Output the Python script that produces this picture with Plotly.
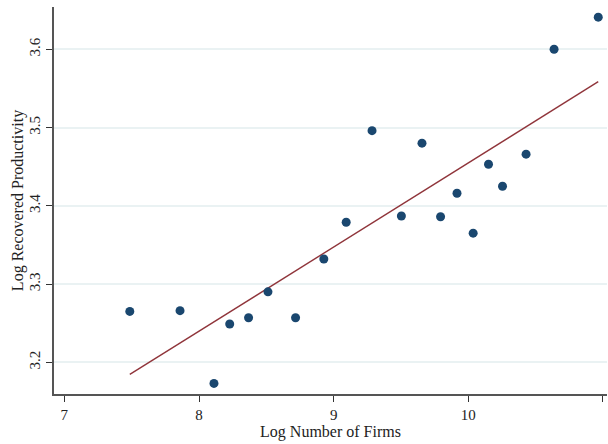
import numpy as np
import plotly.graph_objects as go

log_firms = [7.486, 7.859, 8.111, 8.228, 8.368, 8.512, 8.717, 8.927, 9.093, 9.285,
             9.503, 9.656, 9.794, 9.916, 10.036, 10.150, 10.254, 10.429, 10.637, 10.965]
log_prod = [3.265, 3.266, 3.173, 3.249, 3.257, 3.290, 3.257, 3.332, 3.379, 3.496,
            3.387, 3.480, 3.386, 3.416, 3.365, 3.453, 3.425, 3.466, 3.600, 3.641]
x_ticks = [7, 8, 9, 10, 11]
y_ticks = [3.2, 3.3, 3.4, 3.5, 3.6]

x = np.array(log_firms)
y = np.array(log_prod)
b, a = np.polyfit(x, y, 1)
xf = np.array([x.min(), x.max()])
yf = a + b * xf

font = "Liberation Serif, Times New Roman, serif"
fig = go.Figure()
fig.add_trace(go.Scatter(x=xf, y=yf, mode="lines",
                         line=dict(color="#90353b", width=1.4), showlegend=False))
fig.add_trace(go.Scatter(x=log_firms, y=log_prod, mode="markers",
                         marker=dict(color="#1a476f", size=9, line=dict(width=0)),
                         showlegend=False))
fig.update_layout(
    width=608, height=444,
    margin=dict(l=54, r=1, t=7, b=50),
    paper_bgcolor="white", plot_bgcolor="white",
    font=dict(family=font, size=15, color="#222"),
    xaxis=dict(range=[6.923, 11.03], tickvals=x_ticks, ticktext=[str(v) for v in x_ticks],
               showgrid=False, zeroline=False, showline=True, linecolor="#555", linewidth=1.5,
               ticks="outside", ticklen=6, tickcolor="#333", tickwidth=1.2,
               title=dict(text="Log Number of Firms", standoff=2, font=dict(size=16))),
    yaxis=dict(range=[3.1595, 3.654], tickvals=y_ticks, ticktext=[f"{v:.1f}" for v in y_ticks],
               tickangle=-90, showgrid=True, gridcolor="#eaf2f3", gridwidth=1.5,
               zeroline=False, showline=True, linecolor="#555", linewidth=1.5,
               ticks="outside", ticklen=6, tickcolor="#333", tickwidth=1.2,
               title=dict(text="Log Recovered Productivity", standoff=0, font=dict(size=16))),
)
fig.write_html("out.html")
